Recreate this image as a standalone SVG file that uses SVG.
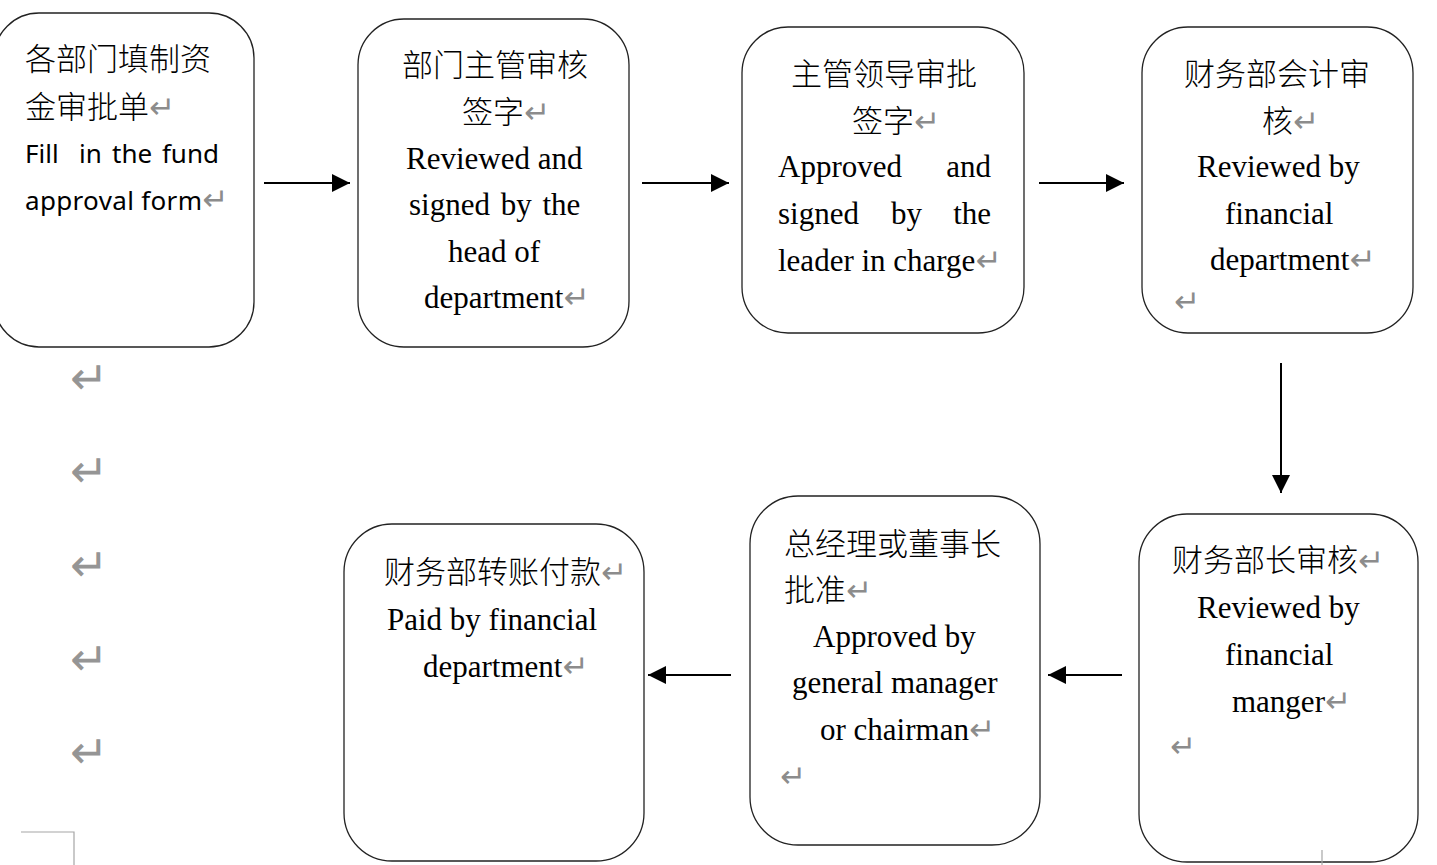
<svg xmlns="http://www.w3.org/2000/svg" width="1437" height="865" viewBox="0 0 1437 865">
<style>
.box{fill:#fff;stroke:#222;stroke-width:1.3}
.cn{font-family:"Noto Sans CJK SC","Noto Sans CJK TC",sans-serif;font-size:31px;font-weight:300;fill:#000}
.en{font-family:"Liberation Serif","Times New Roman",serif;font-size:31px;fill:#000}
.sans{font-family:"Noto Sans","Open Sans",sans-serif;font-size:26px;fill:#000}
.pm{font-family:"DejaVu Sans",sans-serif;font-size:31px;font-weight:normal;fill:#8c8c8c}
.pmL{font-family:"DejaVu Sans",sans-serif;font-size:46px;font-weight:200;fill:#959595}
.conn line{stroke:#000;stroke-width:2;marker-end:url(#ah)}
.mark{stroke:#a6a6a6;stroke-width:1.2;fill:none}
</style>
<defs>
<marker id="ah" markerUnits="userSpaceOnUse" markerWidth="18" markerHeight="18" refX="18" refY="9" orient="auto">
<path d="M0,0 L18,9 L0,18 z" fill="#000"/>
</marker>
</defs>
<rect width="1437" height="865" fill="#fff"/>

<g id="n1">
<rect class="box" x="-6" y="13" width="260" height="334" rx="45"/>
<text class="cn" x="25" y="70">各部门填制资</text>
<text class="cn" x="25" y="118">金审批单<tspan class="pm">↵</tspan></text>
<text class="sans" x="25" y="163">Fill</text>
<text class="sans" x="79" y="163">in</text>
<text class="sans" x="112" y="163">the</text>
<text class="sans" x="219" y="163" text-anchor="end">fund</text>
<text class="sans" y="210"><tspan x="25" textLength="177">approval form</tspan><tspan class="pm">↵</tspan></text>
</g>

<g id="n2">
<rect class="box" x="358" y="19" width="271" height="328" rx="46"/>
<text class="cn" x="402" y="76">部门主管审核</text>
<text class="cn" x="462" y="123">签字<tspan class="pm">↵</tspan></text>
<text class="en" x="406" y="169">Reviewed and</text>
<text class="en" x="409" y="215" word-spacing="3">signed by the</text>
<text class="en" x="448" y="262">head of</text>
<text class="en" x="424" y="308">department<tspan class="pm">↵</tspan></text>
</g>

<g id="n3">
<rect class="box" x="742" y="27" width="282" height="306" rx="46"/>
<text class="cn" x="791" y="85">主管领导审批</text>
<text class="cn" x="852" y="132">签字<tspan class="pm">↵</tspan></text>
<text class="en" x="778" y="177">Approved</text>
<text class="en" x="991" y="177" text-anchor="end">and</text>
<text class="en" x="778" y="224">signed</text>
<text class="en" x="891" y="224">by</text>
<text class="en" x="991" y="224" text-anchor="end">the</text>
<text class="en" x="778" y="271">leader in charge<tspan class="pm">↵</tspan></text>
</g>

<g id="n4">
<rect class="box" x="1142" y="27" width="271" height="306" rx="46"/>
<text class="cn" x="1184" y="85">财务部会计审</text>
<text class="cn" x="1262" y="132">核<tspan class="pm">↵</tspan></text>
<text class="en" x="1197" y="177">Reviewed by</text>
<text class="en" x="1225" y="224">financial</text>
<text class="en" x="1210" y="270">department<tspan class="pm">↵</tspan></text>
<text class="pm" x="1174" y="312">↵</text>
</g>

<g id="n5">
<rect class="box" x="1139" y="514" width="279" height="348" rx="48"/>
<text class="cn" x="1172" y="571">财务部长审核<tspan class="pm">↵</tspan></text>
<text class="en" x="1197" y="618">Reviewed by</text>
<text class="en" x="1225" y="665">financial</text>
<text class="en" x="1232" y="712">manger<tspan class="pm">↵</tspan></text>
<text class="pm" x="1170" y="757">↵</text>
</g>

<g id="n6">
<rect class="box" x="750" y="496" width="290" height="349" rx="48"/>
<text class="cn" x="784" y="555">总经理或董事长</text>
<text class="cn" x="784" y="601">批准<tspan class="pm">↵</tspan></text>
<text class="en" x="813" y="647">Approved by</text>
<text class="en" x="792" y="693">general manager</text>
<text class="en" x="820" y="740">or chairman<tspan class="pm">↵</tspan></text>
<text class="pm" x="780" y="787">↵</text>
</g>

<g id="n7">
<rect class="box" x="344" y="524" width="300" height="337" rx="48"/>
<text class="cn" x="384" y="583">财务部转账付款<tspan class="pm">↵</tspan></text>
<text class="en" x="387" y="630">Paid by financial</text>
<text class="en" x="423" y="677">department<tspan class="pm">↵</tspan></text>
</g>

<g id="connectors" class="conn">
<line x1="264" y1="183" x2="350" y2="183"/>
<line x1="642" y1="183" x2="729" y2="183"/>
<line x1="1039" y1="183" x2="1124" y2="183"/>
<line x1="1281" y1="363" x2="1281" y2="493"/>
<line x1="1122" y1="675" x2="1048" y2="675"/>
<line x1="731" y1="675" x2="648" y2="675"/>
</g>

<g id="page-marks">
<text class="pmL" x="70" y="394">↵</text>
<text class="pmL" x="70" y="487">↵</text>
<text class="pmL" x="70" y="581">↵</text>
<text class="pmL" x="70" y="675">↵</text>
<text class="pmL" x="70" y="768">↵</text>
<polyline class="mark" points="21,832 74,832 74,865"/>
<line class="mark" x1="1322" y1="850" x2="1322" y2="865"/>
</g>
</svg>
